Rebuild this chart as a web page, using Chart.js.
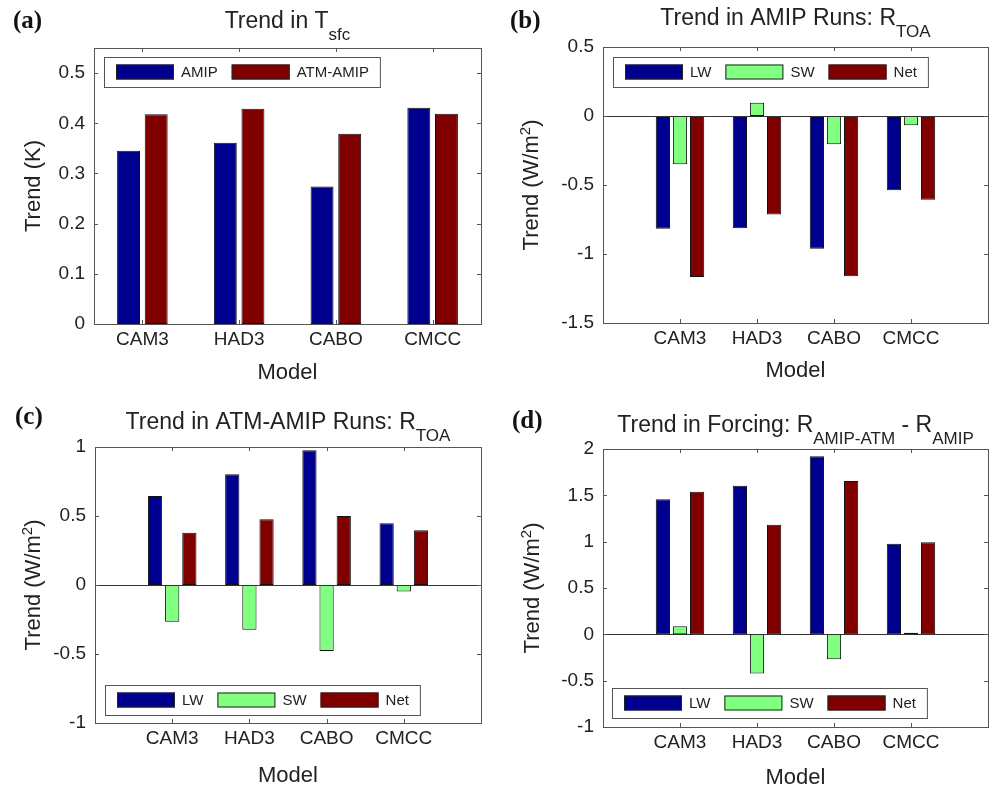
<!DOCTYPE html>
<html lang="en">
<head>
<meta charset="UTF-8" />
<title>Trends in AMIP / ATM-AMIP runs</title>
<script src="https://cdn.jsdelivr.net/npm/chart.js@4.4.0/dist/chart.umd.min.js"></script>
<style>
  body { margin: 0; background: #fff; }
  #wrap { position: relative; width: 990px; height: 787px; }
  canvas { position: absolute; }
</style>
</head>
<body>
<div id="wrap">
  <canvas id="chartA" width="495" height="390" style="left:0;top:0"></canvas>
  <canvas id="chartB" width="495" height="390" style="left:495px;top:0"></canvas>
  <canvas id="chartC" width="495" height="397" style="left:0;top:390px"></canvas>
  <canvas id="chartD" width="495" height="397" style="left:495px;top:390px"></canvas>
</div>
<script>
// data
const models = ["CAM3", "HAD3", "CABO", "CMCC"];

const tsfcAmip = [0.345, 0.361, 0.274, 0.431];
const tsfcAtmAmip = [0.418, 0.429, 0.379, 0.419];

const amipLW = [-0.817, -0.813, -0.962, -0.538];
const amipSW = [-0.349, 0.096, -0.204, -0.067];
const amipNet = [-1.166, -0.714, -1.161, -0.606];

const atmLW = [0.645, 0.802, 0.976, 0.447];
const atmSW = [-0.266, -0.324, -0.478, -0.048];
const atmNet = [0.379, 0.476, 0.5, 0.396];

const forcLW = [1.457, 1.604, 1.921, 0.978];
const forcSW = [0.086, -0.424, -0.27, 0.018];
const forcNet = [1.54, 1.183, 1.655, 0.993];

const ticksA = [0, 0.1, 0.2, 0.3, 0.4, 0.5];
const ticksB = [-1.5, -1, -0.5, 0, 0.5];
const ticksC = [-1, -0.5, 0, 0.5, 1];
const ticksD = [-1, -0.5, 0, 0.5, 1, 1.5, 2];

const BLUE = "#00008f", GREEN = "#80ff80", RED = "#800000";
const FONT = "'Liberation Sans', Arial, sans-serif";
const AXIS = "#555";

// draw a string made of pieces, some raised or lowered, centred on x
function drawParts(ctx, parts, x, y, size) {
  let total = 0;
  parts.forEach(p => {
    ctx.font = (p.s || size) + "px " + FONT;
    p.w = ctx.measureText(p.t).width;
    total += p.w;
  });
  let cx = x - total / 2;
  ctx.textAlign = "left";
  ctx.textBaseline = "alphabetic";
  parts.forEach(p => {
    ctx.font = (p.s || size) + "px " + FONT;
    ctx.fillText(p.t, cx, y + (p.dy || 0));
    cx += p.w;
  });
}

const decor = {
  id: "decor",
  afterDatasetsDraw(chart, args, o) {
    const ctx = chart.ctx;
    const ca = chart.chartArea;
    const xs = chart.scales.x, ys = chart.scales.y;
    ctx.save();

    // zero baseline
    if (ys.min < 0) {
      const y0 = Math.round(ys.getPixelForValue(0)) + 0.5;
      ctx.strokeStyle = "#333";
      ctx.lineWidth = 1;
      ctx.beginPath();
      ctx.moveTo(ca.left, y0);
      ctx.lineTo(ca.right, y0);
      ctx.stroke();
    }

    // axes box + inward ticks
    ctx.strokeStyle = AXIS;
    ctx.lineWidth = 1;
    ctx.strokeRect(Math.round(ca.left) + 0.5, Math.round(ca.top) + 0.5,
      Math.round(ca.right - ca.left), Math.round(ca.bottom - ca.top));
    ctx.beginPath();
    ys.ticks.forEach(t => {
      const y = Math.round(ys.getPixelForValue(t.value)) + 0.5;
      ctx.moveTo(ca.left, y); ctx.lineTo(ca.left + 4, y);
      ctx.moveTo(ca.right, y); ctx.lineTo(ca.right - 4, y);
    });
    xs.ticks.forEach(t => {
      const x = Math.round(xs.getPixelForValue(t.value)) + 0.5;
      ctx.moveTo(x, ca.bottom); ctx.lineTo(x, ca.bottom - 4);
      ctx.moveTo(x, ca.top); ctx.lineTo(x, ca.top + 4);
    });
    ctx.stroke();

    // legend box inside the axes
    const lg = o.legend;
    ctx.font = "15px " + FONT;
    const sw = 58, sh = 15, bh = 30;
    let w = 12;
    chart.data.datasets.forEach((d, i) => {
      w += sw + 7 + ctx.measureText(d.label).width + (i < chart.data.datasets.length - 1 ? 14 : 11);
    });
    ctx.fillStyle = "#fff";
    ctx.fillRect(lg.x, lg.y, w, bh);
    ctx.strokeStyle = AXIS;
    ctx.strokeRect(lg.x + 0.5, lg.y + 0.5, w, bh);
    let lx = lg.x + 12;
    chart.data.datasets.forEach(d => {
      ctx.fillStyle = d.backgroundColor;
      ctx.fillRect(lx, lg.y + (bh - sh) / 2, sw, sh);
      ctx.strokeStyle = "#222";
      ctx.strokeRect(lx + 0.5, lg.y + (bh - sh) / 2 + 0.5, sw - 1, sh - 1);
      lx += sw + 7;
      ctx.fillStyle = "#222";
      ctx.textAlign = "left";
      ctx.textBaseline = "middle";
      ctx.fillText(d.label, lx, lg.y + bh / 2 + 1);
      lx += ctx.measureText(d.label).width + 14;
    });

    ctx.fillStyle = "#222";
    const mid = (ca.left + ca.right) / 2;
    // title
    drawParts(ctx, o.title, mid, o.titleY, 23);
    // x label
    drawParts(ctx, [{ t: "Model" }], mid, o.xLabelY, 22);
    // y label
    ctx.save();
    ctx.translate(o.yLabelX, (ca.top + ca.bottom) / 2);
    ctx.rotate(-Math.PI / 2);
    drawParts(ctx, o.yLabel, 0, 0, 22);
    ctx.restore();
    // panel tag
    ctx.font = "bold 25px 'Liberation Serif', 'Times New Roman', serif";
    ctx.textAlign = "left";
    ctx.textBaseline = "alphabetic";
    ctx.fillStyle = "#111";
    ctx.fillText(o.tag, o.tagX, o.tagY);
    ctx.restore();
  }
};

function makeChart(id, p) {
  const canvas = document.getElementById(id);
  const H = canvas.height, W = canvas.width;
  const n = p.series.length;
  new Chart(canvas, {
    type: "bar",
    data: {
      datasets: p.series.map(s => ({
        label: s.label,
        data: s.values.map((v, i) => ({ x: i + 1, y: v })),
        backgroundColor: s.color,
        borderColor: "#111",
        borderWidth: 1,
        borderSkipped: false,
        categoryPercentage: n / (n + 1.5),
        barPercentage: 0.83
      }))
    },
    options: {
      responsive: false,
      animation: false,
      devicePixelRatio: 1,
      layout: { padding: { left: 0, top: p.area.t, right: W - p.area.r, bottom: 0 } },
      plugins: {
        legend: { display: false },
        title: { display: false },
        tooltip: { enabled: false },
        decor: p.decor
      },
      scales: {
        x: {
          type: "linear",
          min: p.xMin,
          max: p.xMax,
          offset: false,
          grid: { display: false, drawTicks: false, offset: false },
          border: { display: false },
          afterBuildTicks: s => { s.ticks = models.map((m, i) => ({ value: i + 1 })); },
          afterFit: s => { s.height = H - p.area.b; },
          ticks: {
            padding: 4,
            color: "#222",
            font: { family: FONT, size: 19 },
            callback: v => models[v - 1] || ""
          }
        },
        y: {
          min: p.yMin,
          max: p.yMax,
          grid: { display: false, drawTicks: false },
          border: { display: false },
          afterBuildTicks: s => { s.ticks = p.yTicks.map(v => ({ value: v })); },
          afterFit: s => { s.width = p.area.l; },
          ticks: {
            padding: 9,
            color: "#222",
            font: { family: FONT, size: 19 },
            callback: v => String(v)
          }
        }
      }
    },
    plugins: [decor]
  });
}

const wm2 = [{ t: "Trend (W/m" }, { t: "2", s: 15, dy: -8 }, { t: ")" }];

makeChart("chartA", {
  series: [
    { label: "AMIP", values: tsfcAmip, color: BLUE },
    { label: "ATM-AMIP", values: tsfcAtmAmip, color: RED }
  ],
  xMin: 0.5, xMax: 4.5, yMin: 0, yMax: 0.55, yTicks: ticksA,
  area: { l: 94, t: 48, r: 481, b: 324 },
  decor: {
    title: [{ t: "Trend in T" }, { t: "sfc", s: 17, dy: 12 }],
    titleY: 28, xLabelY: 379, yLabelX: 40,
    yLabel: [{ t: "Trend (K)" }],
    tag: "(a)", tagX: 13, tagY: 28,
    legend: { x: 104, y: 57 }
  }
});

makeChart("chartB", {
  series: [
    { label: "LW", values: amipLW, color: BLUE },
    { label: "SW", values: amipSW, color: GREEN },
    { label: "Net", values: amipNet, color: RED }
  ],
  xMin: 0, xMax: 5, yMin: -1.5, yMax: 0.5, yTicks: ticksB,
  area: { l: 108, t: 47, r: 493, b: 323 },
  decor: {
    title: [{ t: "Trend in AMIP Runs: R" }, { t: "TOA", s: 17, dy: 12 }],
    titleY: 25, xLabelY: 377, yLabelX: 43,
    yLabel: wm2,
    tag: "(b)", tagX: 15, tagY: 28,
    legend: { x: 118, y: 57 }
  }
});

makeChart("chartC", {
  series: [
    { label: "LW", values: atmLW, color: BLUE },
    { label: "SW", values: atmSW, color: GREEN },
    { label: "Net", values: atmNet, color: RED }
  ],
  xMin: 0, xMax: 5, yMin: -1, yMax: 1, yTicks: ticksC,
  area: { l: 95, t: 57, r: 481, b: 333 },
  decor: {
    title: [{ t: "Trend in ATM-AMIP Runs: R" }, { t: "TOA", s: 17, dy: 12 }],
    titleY: 39, xLabelY: 392, yLabelX: 40,
    yLabel: wm2,
    tag: "(c)", tagX: 15, tagY: 34,
    legend: { x: 105, y: 295 }
  }
});

makeChart("chartD", {
  series: [
    { label: "LW", values: forcLW, color: BLUE },
    { label: "SW", values: forcSW, color: GREEN },
    { label: "Net", values: forcNet, color: RED }
  ],
  xMin: 0, xMax: 5, yMin: -1, yMax: 2, yTicks: ticksD,
  area: { l: 108, t: 59, r: 493, b: 337 },
  decor: {
    title: [{ t: "Trend in Forcing: R" }, { t: "AMIP-ATM", s: 17, dy: 12 }, { t: " - R" }, { t: "AMIP", s: 17, dy: 12 }],
    titleY: 42, xLabelY: 394, yLabelX: 44,
    yLabel: wm2,
    tag: "(d)", tagX: 17, tagY: 38,
    legend: { x: 117, y: 298 }
  }
});
</script>
</body>
</html>
